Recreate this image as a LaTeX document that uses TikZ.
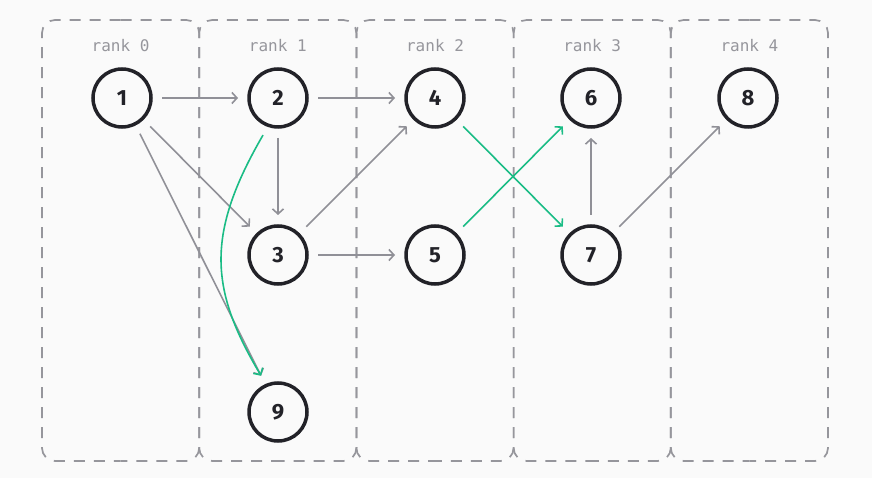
\documentclass[tikz,border=0pt]{standalone}
\usepackage{fontspec}
\setmainfont{Fira Sans}
\newfontfamily\rankfont{DejaVu Sans Mono}
\usetikzlibrary{arrows.meta}
\definecolor{bgc}{HTML}{FAFAFA}
\definecolor{ink}{HTML}{222228}
\definecolor{edgegray}{HTML}{909097}
\definecolor{boxgray}{HTML}{96969C}
\definecolor{accent}{HTML}{1ABC85}
\begin{document}
\begin{tikzpicture}[x=1pt,y=-1pt,
  vertex/.style={circle,draw=ink,line width=3.5pt,minimum size=58pt,inner sep=0pt,
    outer sep=11pt,font=\fontsize{22}{24}\selectfont\bfseries,text=ink},
  rankbox/.style={draw=boxgray,line width=1.7pt,dash pattern=on 11pt off 9pt,rounded corners=13pt},
  ranklabel/.style={font=\rankfont\fontsize{16}{18}\selectfont,text=boxgray},
  link/.style={draw=edgegray,line width=1.6pt,-{Straight Barb[length=5pt,width=11pt,line width=1.6pt]}},
  hot/.style={link,draw=accent}]
  \fill[bgc] (0,0) rectangle (872,478);
  \useasboundingbox (0,0) rectangle (872,478);
  % rank columns: each drawn as two mirrored halves from the top middle,
  % so that the dashes of neighbouring columns line up on shared sides
  \foreach \r in {0,...,4}{
    \pgfmathsetmacro\xa{42+157.2*\r}
    \pgfmathsetmacro\xb{\xa+157.2}
    \pgfmathsetmacro\xm{\xa+78.6}
    \draw[rankbox] (\xm,20) -- (\xa,20) -- (\xa,461) -- (\xm,461);
    \draw[rankbox] (\xm,20) -- (\xb,20) -- (\xb,461) -- (\xm,461);
    \node[ranklabel] at (\xm,46) {rank \r};
  }
  % vertices
  \node[vertex] (n1) at (122,98) {1};
  \node[vertex] (n2) at (278,98) {2};
  \node[vertex] (n4) at (435,98) {4};
  \node[vertex] (n6) at (591,98) {6};
  \node[vertex] (n8) at (748,98) {8};
  \node[vertex] (n3) at (278,255) {3};
  \node[vertex] (n5) at (435,255) {5};
  \node[vertex] (n7) at (591,255) {7};
  \node[vertex] (n9) at (278,412) {9};
  % edges
  \draw[link] (n1) -- (n2);
  \draw[link] (n2) -- (n4);
  \draw[link] (n1) -- (n3);
  \draw[link] (n2) -- (n3);
  \draw[link] (n3) -- (n4);
  \draw[link] (n3) -- (n5);
  \draw[link] (n1) -- (n9.115);
  \draw[link] (n7) -- (n6);
  \draw[link] (n7) -- (n8);
  \draw[hot] (n4) -- (n7);
  \draw[hot] (n5) -- (n6);
  \draw[hot] (n2.-112) .. controls (205,235) and (210,290) .. (n9.115);
\end{tikzpicture}
\end{document}
